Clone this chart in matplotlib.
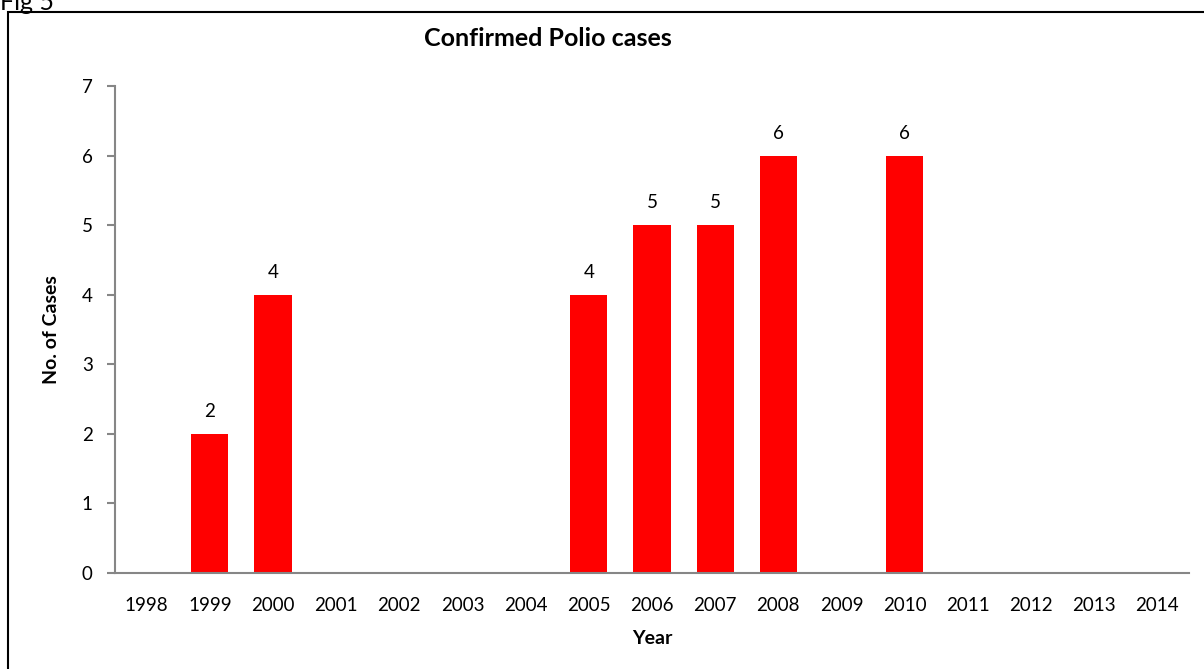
import matplotlib
matplotlib.use('Agg')
import matplotlib.pyplot as plt
from matplotlib.patches import Rectangle

# Data
years = ['1998', '1999', '2000', '2001', '2002', '2003', '2004', '2005', '2006',
         '2007', '2008', '2009', '2010', '2011', '2012', '2013', '2014']
cases = [0, 2, 4, 0, 0, 0, 0, 4, 5, 5, 6, 0, 6, 0, 0, 0, 0]

plt.rcParams['font.family'] = ['Lato', 'DejaVu Sans']
axis_grey = '#868686'

fig = plt.figure(figsize=(12.04, 6.69), dpi=100)
ax = fig.add_axes([115 / 1204, 1 - 573 / 669, (1189 - 115) / 1204, (573 - 86) / 669])

x = range(len(years))
bars = ax.bar(x, cases, width=0.59, color='#ff0000', edgecolor='none')
for xi, v in zip(x, cases):
    if v > 0:
        ax.text(xi, v + 0.2, str(v), ha='center', va='bottom', fontsize=13.5)

ax.set_xlim(-0.5, len(years) - 0.5)
ax.set_ylim(0, 7)
ax.set_yticks(range(0, 8))
ax.set_xticks(list(x))
ax.set_xticklabels(years)
ax.tick_params(axis='x', length=0, pad=17, labelsize=13.5)
ax.tick_params(axis='y', length=6, width=1.5, color=axis_grey, pad=10, labelsize=13.5)

for side in ['top', 'right']:
    ax.spines[side].set_visible(False)
for side in ['left', 'bottom']:
    ax.spines[side].set_color(axis_grey)
    ax.spines[side].set_linewidth(1.5)

ax.set_ylabel('No. of Cases', fontsize=14, fontweight='bold', labelpad=16)
ax.set_xlabel('Year', fontsize=14, fontweight='bold', labelpad=12)

fig.text(548 / 1204, 1 - 38 / 669, 'Confirmed Polio cases', ha='center', va='center',
         fontsize=18, fontweight='bold')

# outer frame and caption cut off at top
fig.patches.append(Rectangle((8 / 1204, -0.1), 1.2, 1 - 12 / 669 + 0.1,
                             transform=fig.transFigure, fill=False,
                             edgecolor='black', linewidth=1.5))
fig.text(0.0, 1 - 2 / 669, 'Fig 5', ha='left', va='center', fontsize=18)

fig.savefig('out.png', dpi=100)
